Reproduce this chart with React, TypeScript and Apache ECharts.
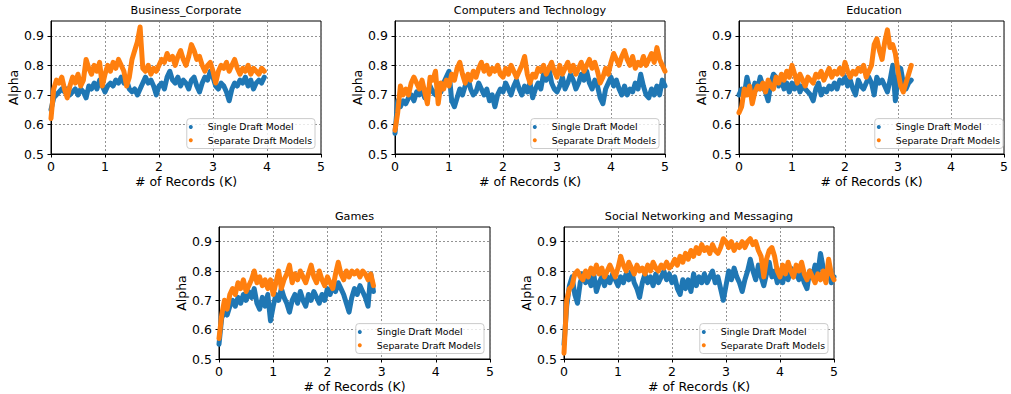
import React, { useEffect, useRef } from "react";
import * as echarts from "echarts";

// x step between consecutive readings, in thousands of records
const STEP_K = 0.05;

const TITLES = [
  "Business_Corporate",
  "Computers and Technology",
  "Education",
  "Games",
  "Social Networking and Messaging",
];
const SERIES_NAMES = ["Single Draft Model", "Separate Draft Models"];
const X_TICKS = [0, 1, 2, 3, 4, 5];
const Y_TICKS = [0.5, 0.6, 0.7, 0.8, 0.9];

const BIZ_SINGLE = [
  0.65, 0.69, 0.70, 0.71, 0.72, 0.71, 0.72, 0.70, 0.71, 0.72,
  0.70, 0.72, 0.71, 0.69, 0.73, 0.72, 0.74, 0.72, 0.75, 0.73,
  0.71, 0.73, 0.74, 0.73, 0.75, 0.74, 0.76, 0.74, 0.75, 0.72,
  0.71, 0.72, 0.70, 0.72, 0.74, 0.76, 0.74, 0.75, 0.73, 0.70,
  0.73, 0.74, 0.72, 0.76, 0.78, 0.75, 0.74, 0.76, 0.73, 0.75,
  0.74, 0.72, 0.75, 0.76, 0.73, 0.71, 0.74, 0.76, 0.75, 0.78,
  0.76, 0.73, 0.72, 0.74, 0.73, 0.71, 0.68, 0.72, 0.74, 0.73,
  0.75, 0.74, 0.76, 0.73, 0.75, 0.72, 0.74, 0.75, 0.74, 0.76,
];
const BIZ_SEPARATE = [
  0.62, 0.72, 0.75, 0.74, 0.76, 0.72, 0.69, 0.73, 0.76, 0.74,
  0.77, 0.73, 0.75, 0.82, 0.79, 0.77, 0.80, 0.78, 0.81, 0.73,
  0.77, 0.80, 0.78, 0.81, 0.79, 0.82, 0.80, 0.78, 0.73, 0.76,
  0.82, 0.85, 0.88, 0.93, 0.79, 0.78, 0.80, 0.77, 0.79, 0.78,
  0.80, 0.82, 0.81, 0.84, 0.82, 0.83, 0.80, 0.83, 0.85, 0.82,
  0.80, 0.83, 0.87, 0.85, 0.82, 0.83, 0.80, 0.78, 0.80, 0.81,
  0.78, 0.74, 0.78, 0.80, 0.79, 0.81, 0.78, 0.80, 0.82, 0.79,
  0.77, 0.79, 0.78, 0.80, 0.77, 0.79, 0.78, 0.77, 0.79, 0.78,
];

const TECH_SINGLE = [
  0.57, 0.68, 0.66, 0.68, 0.67, 0.69, 0.70, 0.68, 0.71, 0.70,
  0.72, 0.69, 0.71, 0.73, 0.71, 0.70, 0.73, 0.71, 0.74, 0.76,
  0.78, 0.68, 0.66, 0.69, 0.72, 0.70, 0.73, 0.76, 0.72, 0.70,
  0.71, 0.74, 0.72, 0.70, 0.72, 0.68, 0.70, 0.66, 0.70, 0.72,
  0.71, 0.74, 0.72, 0.70, 0.73, 0.75, 0.72, 0.70, 0.73, 0.71,
  0.74, 0.69, 0.72, 0.74, 0.72, 0.77, 0.75, 0.79, 0.74, 0.72,
  0.71, 0.73, 0.76, 0.72, 0.74, 0.77, 0.75, 0.72, 0.74, 0.77,
  0.75, 0.78, 0.74, 0.72, 0.75, 0.73, 0.69, 0.67, 0.72, 0.74,
  0.76, 0.73, 0.75, 0.72, 0.70, 0.73, 0.70, 0.72, 0.71, 0.74,
  0.72, 0.77, 0.73, 0.70, 0.69, 0.72, 0.70, 0.73, 0.70, 0.75,
  0.73,
];
const TECH_SEPARATE = [
  0.58, 0.64, 0.73, 0.70, 0.72, 0.70, 0.74, 0.76, 0.74, 0.72,
  0.75, 0.71, 0.67, 0.76, 0.75, 0.78, 0.67, 0.74, 0.72, 0.75,
  0.73, 0.77, 0.75, 0.79, 0.81, 0.77, 0.74, 0.77, 0.75, 0.78,
  0.76, 0.79, 0.81, 0.78, 0.80, 0.77, 0.79, 0.78, 0.80, 0.77,
  0.76, 0.79, 0.77, 0.80, 0.78, 0.76, 0.78, 0.80, 0.83, 0.77,
  0.74, 0.77, 0.76, 0.79, 0.78, 0.80, 0.77, 0.79, 0.81, 0.78,
  0.76, 0.80, 0.77, 0.79, 0.81, 0.78, 0.80, 0.77, 0.79, 0.81,
  0.78, 0.80, 0.82, 0.79, 0.81, 0.78, 0.74, 0.76, 0.79, 0.77,
  0.81, 0.84, 0.82, 0.80, 0.83, 0.85, 0.82, 0.80, 0.83, 0.79,
  0.81, 0.80, 0.83, 0.80, 0.82, 0.84, 0.81, 0.86, 0.82, 0.80,
  0.78,
];

const EDU_SINGLE = [
  0.70, 0.72, 0.70, 0.76, 0.72, 0.70, 0.74, 0.72, 0.76, 0.73,
  0.71, 0.68, 0.74, 0.77, 0.76, 0.73, 0.75, 0.72, 0.74, 0.71,
  0.74, 0.72, 0.75, 0.71, 0.73, 0.72, 0.71, 0.70, 0.68, 0.72,
  0.74, 0.70, 0.72, 0.71, 0.73, 0.72, 0.74, 0.72, 0.75, 0.74,
  0.76, 0.73, 0.75, 0.72, 0.70, 0.75, 0.73, 0.72, 0.74, 0.76,
  0.74, 0.70, 0.76, 0.74, 0.75, 0.73, 0.71, 0.75, 0.80, 0.68,
  0.76, 0.79, 0.74, 0.72, 0.74, 0.75,
];
const EDU_SEPARATE = [
  0.64, 0.66, 0.72, 0.70, 0.73, 0.67, 0.71, 0.73, 0.72, 0.74,
  0.71, 0.75, 0.73, 0.72, 0.76, 0.74, 0.77, 0.75, 0.78, 0.76,
  0.80, 0.77, 0.74, 0.77, 0.75, 0.73, 0.76, 0.75, 0.74, 0.77,
  0.76, 0.78, 0.75, 0.77, 0.79, 0.76, 0.78, 0.77, 0.79, 0.77,
  0.81, 0.78, 0.76, 0.78, 0.77, 0.79, 0.78, 0.80, 0.76, 0.78,
  0.80, 0.87, 0.89, 0.85, 0.82, 0.88, 0.92, 0.86, 0.87, 0.84,
  0.78, 0.73, 0.71, 0.74, 0.77, 0.80,
];

const GAMES_SINGLE = [
  0.55, 0.64, 0.66, 0.65, 0.68, 0.70, 0.68, 0.71, 0.69, 0.72,
  0.70, 0.73, 0.71, 0.74, 0.69, 0.67, 0.71, 0.68, 0.72, 0.63,
  0.68, 0.72, 0.70, 0.74, 0.71, 0.69, 0.66, 0.70, 0.72, 0.69,
  0.73, 0.70, 0.68, 0.72, 0.70, 0.73, 0.71, 0.69, 0.72, 0.70,
  0.74, 0.72, 0.75, 0.73, 0.76, 0.74, 0.72, 0.69, 0.66, 0.71,
  0.74, 0.72, 0.75, 0.73, 0.71, 0.68, 0.79, 0.73,
];
const GAMES_SEPARATE = [
  0.57, 0.65, 0.70, 0.67, 0.72, 0.74, 0.72, 0.76, 0.74, 0.77,
  0.73, 0.75, 0.77, 0.80, 0.76, 0.78, 0.75, 0.77, 0.74, 0.77,
  0.72, 0.76, 0.80, 0.74, 0.77, 0.79, 0.82, 0.76, 0.79, 0.77,
  0.80, 0.78, 0.76, 0.79, 0.82, 0.78, 0.76, 0.80, 0.77, 0.75,
  0.78, 0.76, 0.74, 0.79, 0.83, 0.79, 0.77, 0.80, 0.78, 0.80,
  0.79, 0.80, 0.78, 0.80, 0.79, 0.77, 0.79, 0.75,
];

const SOCIAL_SINGLE = [
  0.55, 0.68, 0.75, 0.78, 0.72, 0.69, 0.76, 0.79, 0.76, 0.78,
  0.75, 0.79, 0.73, 0.76, 0.78, 0.75, 0.78, 0.76, 0.79, 0.77,
  0.75, 0.78, 0.76, 0.79, 0.77, 0.80, 0.76, 0.74, 0.71, 0.76,
  0.79, 0.76, 0.78, 0.75, 0.79, 0.76, 0.78, 0.80, 0.77, 0.79,
  0.76, 0.78, 0.74, 0.72, 0.77, 0.74, 0.77, 0.73, 0.79, 0.75,
  0.78, 0.76, 0.79, 0.76, 0.78, 0.80, 0.76, 0.78, 0.74, 0.70,
  0.75, 0.80, 0.77, 0.81, 0.78, 0.76, 0.73, 0.77, 0.80, 0.84,
  0.80, 0.77, 0.82, 0.78, 0.75, 0.79, 0.83, 0.78, 0.80, 0.76,
  0.79, 0.76, 0.80, 0.77, 0.81, 0.78, 0.80, 0.77, 0.79, 0.76,
  0.74, 0.80, 0.78, 0.82, 0.79, 0.86, 0.81, 0.78, 0.80, 0.76,
  0.78,
];
const SOCIAL_SEPARATE = [
  0.52, 0.70, 0.74, 0.75, 0.79, 0.80, 0.78, 0.77, 0.80, 0.78,
  0.81, 0.79, 0.82, 0.79, 0.81, 0.78, 0.80, 0.82, 0.80, 0.78,
  0.81, 0.85, 0.82, 0.80, 0.83, 0.81, 0.79, 0.82, 0.80, 0.81,
  0.79, 0.82, 0.80, 0.83, 0.81, 0.80, 0.82, 0.81, 0.83, 0.81,
  0.82, 0.84, 0.82, 0.85, 0.83, 0.86, 0.84, 0.87, 0.85, 0.88,
  0.86, 0.89, 0.87, 0.88, 0.86, 0.89, 0.87, 0.86, 0.88, 0.91,
  0.90, 0.88, 0.90, 0.87, 0.89, 0.88, 0.90, 0.88, 0.90, 0.91,
  0.89, 0.90, 0.87, 0.85, 0.78, 0.84, 0.87, 0.88, 0.85, 0.80,
  0.78, 0.82, 0.79, 0.83, 0.80, 0.78, 0.82, 0.80, 0.83, 0.79,
  0.77, 0.80, 0.78, 0.76, 0.79, 0.77, 0.80, 0.76, 0.84, 0.79,
  0.77,
];

const SINGLE_SETS = [BIZ_SINGLE, TECH_SINGLE, EDU_SINGLE, GAMES_SINGLE, SOCIAL_SINGLE];
const SEPARATE_SETS = [BIZ_SEPARATE, TECH_SEPARATE, EDU_SEPARATE, GAMES_SEPARATE, SOCIAL_SEPARATE];

const W = 1011;
const H = 394;
const FONT = "DejaVu Sans";
const COLORS = ["#1f77b4", "#ff7f0e"];

const GRIDS = [
  { left: 51, top: 21, width: 270, height: 133 },
  { left: 395, top: 21, width: 270, height: 133 },
  { left: 739, top: 21, width: 270, height: 133 },
  { left: 219, top: 227, width: 271, height: 132 },
  { left: 564, top: 227, width: 270, height: 132 },
];

function pairs(ys: number[]) {
  return ys.map((y, i) => [Math.round(i * STEP_K * 100) / 100, y]);
}

function buildOption() {
  const grid: any[] = [];
  const xAxis: any[] = [];
  const yAxis: any[] = [];
  const series: any[] = [];
  const title: any[] = [];
  const legend: any[] = [];
  const splitLine = { show: true, lineStyle: { type: [2, 2], color: "#777", width: 0.8 } };

  GRIDS.forEach((g, i) => {
    grid.push({ ...g, show: true, borderColor: "#000", borderWidth: 1, backgroundColor: "transparent" });
    xAxis.push({
      gridIndex: i,
      type: "value",
      min: 0,
      max: 5,
      interval: 1,
      name: "# of Records (K)",
      nameLocation: "middle",
      nameGap: 21,
      nameTextStyle: { fontSize: 12.5, color: "#000", fontFamily: FONT },
      axisLine: { show: true, onZero: false, lineStyle: { color: "#000", width: 1 } },
      axisTick: { show: true, length: 3.5, customValues: X_TICKS, lineStyle: { color: "#000" } },
      axisLabel: { fontSize: 12.5, color: "#000", margin: 6, fontFamily: FONT, customValues: X_TICKS },
      splitLine,
    });
    yAxis.push({
      gridIndex: i,
      type: "value",
      min: 0.5,
      max: 0.95,
      interval: 0.1,
      name: "Alpha",
      nameLocation: "middle",
      nameGap: 31,
      nameTextStyle: { fontSize: 12.5, color: "#000", fontFamily: FONT },
      axisLine: { show: true, onZero: false, lineStyle: { color: "#000", width: 1 } },
      axisTick: { show: true, length: 3.5, customValues: Y_TICKS, lineStyle: { color: "#000" } },
      axisLabel: { fontSize: 12.5, color: "#000", margin: 7, fontFamily: FONT, customValues: Y_TICKS },
      splitLine,
    });
    [SINGLE_SETS[i], SEPARATE_SETS[i]].forEach((ys, k) => {
      series.push({
        type: "line",
        name: SERIES_NAMES[k],
        xAxisIndex: i,
        yAxisIndex: i,
        data: pairs(ys),
        showSymbol: false,
        symbol: "none",
        color: COLORS[k],
        lineStyle: { width: 5, color: COLORS[k], join: "round", cap: "round" },
        z: 2 + k,
      });
    });
    title.push({
      text: TITLES[i],
      left: g.left + g.width / 2,
      top: g.top - 16,
      textAlign: "center",
      padding: 0,
      textStyle: { fontSize: 11.2, fontWeight: "normal", fontFamily: FONT, color: "#000" },
    });
    legend.push({
      data: SERIES_NAMES,
      orient: "vertical",
      right: W - (g.left + g.width - 6),
      bottom: H - (g.top + g.height - 5.5),
      icon: "circle",
      itemWidth: 24,
      itemHeight: 4,
      itemGap: 2.3,
      padding: [2.8, 3, 2.8, 2],
      backgroundColor: "rgba(255,255,255,0.8)",
      borderColor: "#cccccc",
      borderWidth: 1,
      borderRadius: 3,
      selectedMode: false,
      textStyle: { fontSize: 9.3, lineHeight: 11, color: "#000", fontFamily: FONT },
    });
  });

  return { animation: false, backgroundColor: "#fff", grid, xAxis, yAxis, series, title, legend };
}

export default function App() {
  const ref = useRef<HTMLDivElement>(null);
  useEffect(() => {
    if (!ref.current) return;
    const chart = echarts.init(ref.current, null, { renderer: "svg" });
    chart.setOption(buildOption() as any);
    return () => chart.dispose();
  }, []);
  return <div ref={ref} style={{ position: "absolute", left: 0, top: 0, width: W, height: H }} />;
}
